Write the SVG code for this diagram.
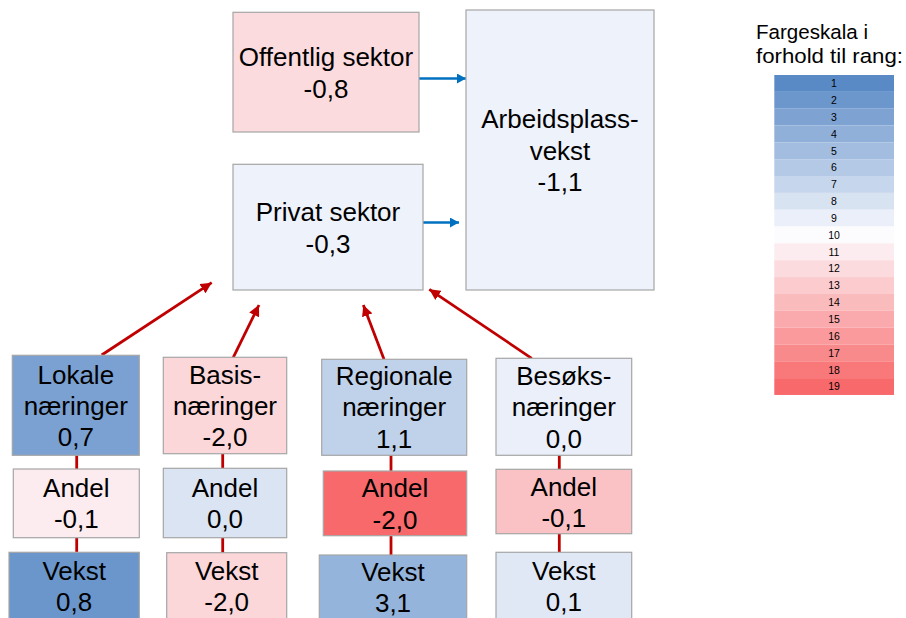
<svg xmlns="http://www.w3.org/2000/svg" width="906" height="618" viewBox="0 0 906 618">
<defs>
<style>
.box{stroke:#A6A6A6;stroke-width:1.2}
.t{font-family:"Liberation Sans",Arial,sans-serif;font-size:26px;fill:#000;text-anchor:middle}
.lg{font-family:"Liberation Sans",Arial,sans-serif;font-size:20.5px;fill:#000}
.n{font-family:"Liberation Sans",Arial,sans-serif;font-size:10.5px;fill:#000;text-anchor:middle}
.blue{stroke:#0070C0;stroke-width:2.6;fill:none}
.red{stroke:#C00000;stroke-width:2.8;fill:none}
</style>
<marker id="ab" viewBox="0 0 10 10" refX="10" refY="5" markerWidth="9" markerHeight="10" markerUnits="userSpaceOnUse" orient="auto" preserveAspectRatio="none"><path d="M0,0 L10,5 L0,10 z" fill="#0070C0"/></marker>
<marker id="ar" viewBox="0 0 10 10" refX="10" refY="5" markerWidth="11" markerHeight="11" markerUnits="userSpaceOnUse" orient="auto"><path d="M0,0 L10,5 L0,10 z" fill="#C00000"/></marker>
</defs>
<rect width="906" height="618" fill="#FFFFFF"/>

<g id="connectors">
<line class="blue" x1="419" y1="78.5" x2="466" y2="78.5" marker-end="url(#ab)"/>
<line class="blue" x1="423" y1="222.5" x2="459" y2="222.5" marker-end="url(#ab)"/>
<line class="red" x1="101.7" y1="355" x2="211.7" y2="282.7" marker-end="url(#ar)"/>
<line class="red" x1="233.3" y1="357.3" x2="259" y2="305" marker-end="url(#ar)"/>
<line class="red" x1="384" y1="359.3" x2="363.3" y2="305" marker-end="url(#ar)"/>
<line class="red" x1="531.7" y1="358.3" x2="429.3" y2="289.3" marker-end="url(#ar)"/>
<line class="red" x1="76.7" y1="455" x2="76.7" y2="469"/>
<line class="red" x1="76.7" y1="538" x2="76.7" y2="552"/>
<line class="red" x1="222.7" y1="454" x2="222.7" y2="468"/>
<line class="red" x1="222.7" y1="538" x2="222.7" y2="553"/>
<line class="red" x1="391" y1="455" x2="391" y2="471"/>
<line class="red" x1="391" y1="536" x2="391" y2="555"/>
<line class="red" x1="559.3" y1="455" x2="559.3" y2="469"/>
<line class="red" x1="559.3" y1="534" x2="559.3" y2="552"/>
</g>

<g id="offentlig">
<rect class="box" x="233" y="12.3" width="186" height="119.7" fill="#FBDBDE"/>
<text class="t" x="326" y="65.5">Offentlig sektor</text>
<text class="t" x="326" y="97.5">-0,8</text>
</g>
<g id="arbeidsplass">
<rect class="box" x="466" y="10" width="188" height="280" fill="#EEF2FA"/>
<text class="t" x="560" y="128">Arbeidsplass-</text>
<text class="t" x="560" y="159.5">vekst</text>
<text class="t" x="560" y="191">-1,1</text>
</g>
<g id="privat">
<rect class="box" x="233" y="164.3" width="190" height="125.7" fill="#EEF2FA"/>
<text class="t" x="328" y="220.5">Privat sektor</text>
<text class="t" x="328" y="252.5">-0,3</text>
</g>

<g id="lokale">
<rect class="box" x="12.3" y="355.3" width="127" height="100" fill="#7BA1D2"/>
<text class="t" x="75.8" y="383.5">Lokale</text>
<text class="t" x="75.8" y="414.5">næringer</text>
<text class="t" x="75.8" y="446">0,7</text>
</g>
<g id="lokale-andel">
<rect class="box" x="13.3" y="469" width="126" height="68.7" fill="#FCECEF"/>
<text class="t" x="76.3" y="497">Andel</text>
<text class="t" x="76.3" y="528">-0,1</text>
</g>
<g id="lokale-vekst">
<rect class="box" x="9" y="552.3" width="130.3" height="80" fill="#6A96CC"/>
<text class="t" x="74.2" y="579.5">Vekst</text>
<text class="t" x="74.2" y="610.5">0,8</text>
</g>

<g id="basis">
<rect class="box" x="163.3" y="357.3" width="123.4" height="96.4" fill="#FBD7DA"/>
<text class="t" x="225" y="384">Basis-</text>
<text class="t" x="225" y="414.5">næringer</text>
<text class="t" x="225" y="446">-2,0</text>
</g>
<g id="basis-andel">
<rect class="box" x="163.3" y="468.3" width="123.4" height="69.4" fill="#DAE4F3"/>
<text class="t" x="225" y="497">Andel</text>
<text class="t" x="225" y="528">0,0</text>
</g>
<g id="basis-vekst">
<rect class="box" x="166.7" y="552.7" width="120" height="80" fill="#FBD7DA"/>
<text class="t" x="226.7" y="579.5">Vekst</text>
<text class="t" x="226.7" y="610.5">-2,0</text>
</g>

<g id="regionale">
<rect class="box" x="321.7" y="359.3" width="145" height="96" fill="#C0D2EA"/>
<text class="t" x="394.2" y="385">Regionale</text>
<text class="t" x="394.2" y="415.5">næringer</text>
<text class="t" x="394.2" y="448">1,1</text>
</g>
<g id="regionale-andel">
<rect class="box" x="323.3" y="471" width="143.4" height="64.7" fill="#F8696B"/>
<text class="t" x="395" y="497">Andel</text>
<text class="t" x="395" y="528.5">-2,0</text>
</g>
<g id="regionale-vekst">
<rect class="box" x="319.3" y="555" width="147.4" height="80" fill="#95B4DB"/>
<text class="t" x="393" y="581">Vekst</text>
<text class="t" x="393" y="612">3,1</text>
</g>

<g id="besoks">
<rect class="box" x="496" y="358.3" width="135.7" height="97" fill="#EAEFF9"/>
<text class="t" x="563.8" y="384.5">Besøks-</text>
<text class="t" x="563.8" y="415.5">næringer</text>
<text class="t" x="563.8" y="448">0,0</text>
</g>
<g id="besoks-andel">
<rect class="box" x="496" y="469.3" width="135.7" height="64.4" fill="#FAC2C5"/>
<text class="t" x="563.8" y="495.5">Andel</text>
<text class="t" x="563.8" y="526.5">-0,1</text>
</g>
<g id="besoks-vekst">
<rect class="box" x="496" y="552.3" width="135.7" height="80" fill="#E0E8F5"/>
<text class="t" x="563.8" y="579.5">Vekst</text>
<text class="t" x="563.8" y="610.5">0,1</text>
</g>

<g id="legend">
<text class="lg" x="756" y="38.5" textLength="112" lengthAdjust="spacingAndGlyphs">Fargeskala i</text>
<text class="lg" x="756" y="63" textLength="147" lengthAdjust="spacingAndGlyphs">forhold til rang:</text>
<rect x="774.3" y="75" width="119.7" height="16.84" fill="#5A8AC6"/>
<rect x="774.3" y="91.84" width="119.7" height="16.84" fill="#6C97CC"/>
<rect x="774.3" y="108.68" width="119.7" height="16.84" fill="#7EA3D3"/>
<rect x="774.3" y="125.52" width="119.7" height="16.84" fill="#90B0D9"/>
<rect x="774.3" y="142.36" width="119.7" height="16.84" fill="#A2BDDF"/>
<rect x="774.3" y="159.2" width="119.7" height="16.84" fill="#B4C9E6"/>
<rect x="774.3" y="176.04" width="119.7" height="16.84" fill="#C6D6EC"/>
<rect x="774.3" y="192.88" width="119.7" height="16.84" fill="#D8E3F2"/>
<rect x="774.3" y="209.72" width="119.7" height="16.84" fill="#EAEFF9"/>
<rect x="774.3" y="226.56" width="119.7" height="16.84" fill="#FCFCFF"/>
<rect x="774.3" y="243.4" width="119.7" height="16.84" fill="#FCECEF"/>
<rect x="774.3" y="260.24" width="119.7" height="16.84" fill="#FBDBDE"/>
<rect x="774.3" y="277.08" width="119.7" height="16.84" fill="#FBCBCE"/>
<rect x="774.3" y="293.92" width="119.7" height="16.84" fill="#FABBBD"/>
<rect x="774.3" y="310.76" width="119.7" height="16.84" fill="#FAAAAD"/>
<rect x="774.3" y="327.6" width="119.7" height="16.84" fill="#FA9A9C"/>
<rect x="774.3" y="344.44" width="119.7" height="16.84" fill="#F98A8C"/>
<rect x="774.3" y="361.28" width="119.7" height="16.84" fill="#F9797B"/>
<rect x="774.3" y="378.12" width="119.7" height="16.84" fill="#F8696B"/>
<text class="n" x="834" y="87.2">1</text>
<text class="n" x="834" y="104">2</text>
<text class="n" x="834" y="120.9">3</text>
<text class="n" x="834" y="137.7">4</text>
<text class="n" x="834" y="154.6">5</text>
<text class="n" x="834" y="171.4">6</text>
<text class="n" x="834" y="188.2">7</text>
<text class="n" x="834" y="205.1">8</text>
<text class="n" x="834" y="221.9">9</text>
<text class="n" x="834" y="238.8">10</text>
<text class="n" x="834" y="255.6">11</text>
<text class="n" x="834" y="272.4">12</text>
<text class="n" x="834" y="289.3">13</text>
<text class="n" x="834" y="306.1">14</text>
<text class="n" x="834" y="323">15</text>
<text class="n" x="834" y="339.8">16</text>
<text class="n" x="834" y="356.6">17</text>
<text class="n" x="834" y="373.5">18</text>
<text class="n" x="834" y="390.3">19</text>
</g>
</svg>
